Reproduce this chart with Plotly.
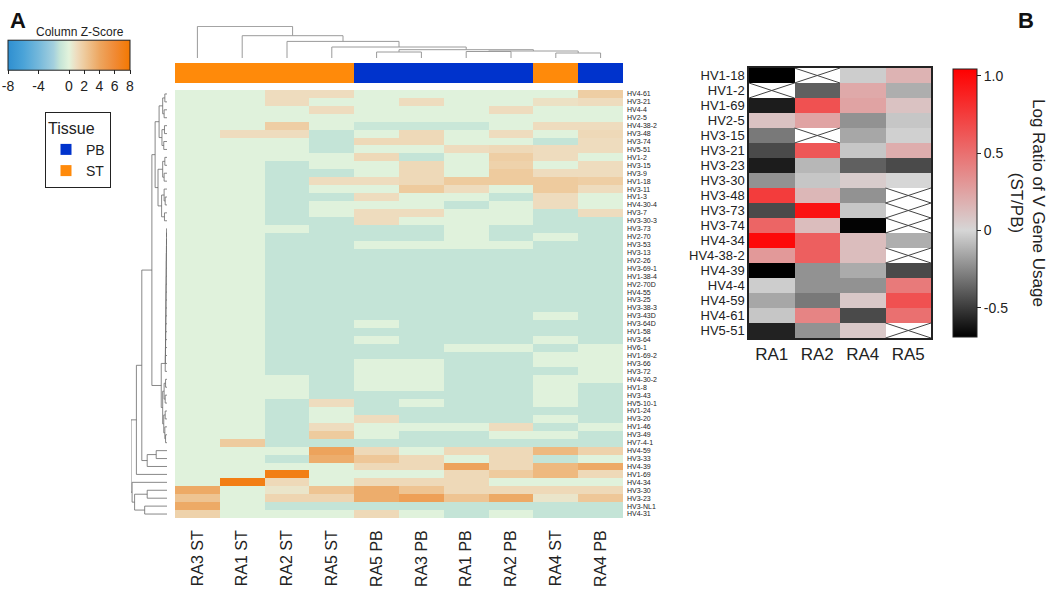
import plotly.graph_objects as go

W, H = 1050, 599


def px_x(p):
    return p / W


def px_y(p):
    return 1 - p / H


# ---------------- Panel A data ----------------
col_labels = ["RA3 ST", "RA1 ST", "RA2 ST", "RA5 ST", "RA5 PB",
              "RA3 PB", "RA1 PB", "RA2 PB", "RA4 ST", "RA4 PB"]
col_tissue = [lab.split()[1] for lab in col_labels]

row_labels = [
    "HV4-61", "HV3-21", "HV4-4", "HV2-5", "HV4-38-2", "HV3-48", "HV3-74", "HV5-51",
    "HV1-2", "HV3-15", "HV3-9", "HV1-18", "HV3-11", "HV1-3", "HV4-30-4", "HV3-7",
    "HV3-30-3", "HV3-73", "HV2-70", "HV3-53", "HV3-13", "HV2-26", "HV3-69-1", "HV1-38-4",
    "HV2-70D", "HV4-55", "HV3-25", "HV3-38-3", "HV3-43D", "HV3-64D", "HV1-58", "HV3-64",
    "HV6-1", "HV1-69-2", "HV3-66", "HV3-72", "HV4-30-2", "HV1-8", "HV3-43", "HV5-10-1",
    "HV1-24", "HV3-20", "HV1-46", "HV3-49", "HV7-4-1", "HV4-59", "HV3-33", "HV4-39",
    "HV1-69", "HV4-34", "HV3-30", "HV3-23", "HV3-NL1", "HV4-31",
]

zscore = [
    [-0.1, -0.1, 1.0, 1.0, -0.1, -0.1, -0.1, -0.1, -0.1, 1.8],
    [-0.1, -0.1, 1.0, -0.1, -0.1, 1.0, -0.1, -0.1, 0.8, 1.0],
    [-0.1, -0.1, -0.1, 1.0, -0.1, -0.1, -0.1, 1.0, -0.1, -0.1],
    [-0.1, -0.1, -0.1, -0.1, -0.1, -0.1, -0.1, -0.1, -0.1, -0.1],
    [-0.1, -0.1, 1.8, -0.1, -1.0, -1.0, -1.0, -0.1, 1.0, 1.0],
    [-0.1, 1.0, 1.0, -1.2, -0.1, 1.2, -0.1, 1.0, -0.1, 1.2],
    [-0.1, -0.1, -0.1, -1.2, 1.2, 1.2, -0.1, -0.1, -1.2, 1.0],
    [-0.1, -0.1, -0.1, -1.2, -0.1, -0.1, 1.0, 1.2, 1.0, 1.0],
    [-0.1, -0.1, -0.1, -0.1, 1.2, -1.2, -0.1, 1.8, 1.0, -0.1],
    [-0.1, -0.1, -1.2, -0.1, -0.1, 1.2, -0.1, 1.6, -0.1, 1.0],
    [-0.1, -0.1, -1.2, -1.2, -0.1, 1.2, -0.1, 2.0, 1.0, 1.0],
    [-0.1, -0.1, -1.2, 1.0, 1.0, 1.2, 2.0, 2.0, 2.0, 1.8],
    [-0.1, -0.1, -1.2, -0.1, -0.1, 2.0, 1.0, -0.1, 2.0, 1.0],
    [-0.1, -0.1, -1.2, -1.2, 1.0, -0.1, -0.1, -1.2, 1.0, -0.1],
    [-0.1, -0.1, -1.2, -0.1, -0.1, -0.1, -1.2, -0.1, 1.0, -0.1],
    [-0.1, -0.1, -1.2, -0.1, 1.0, 1.0, -0.1, -0.1, -1.2, 1.0],
    [-0.1, -0.1, -1.2, -1.2, 1.0, -0.1, -0.1, -0.1, -1.2, -1.2],
    [-0.1, -0.1, -0.1, -1.2, -1.2, -1.2, -0.1, -1.2, -1.2, -1.2],
    [-0.1, -0.1, -1.2, -1.2, -1.2, -1.2, -0.1, -1.2, -0.1, -1.2],
    [-0.1, -0.1, -1.2, -1.2, -0.1, -0.1, -0.1, -0.1, -1.2, -1.2],
    [-0.1, -0.1, -1.2, -1.2, -1.2, -1.2, -1.2, -1.2, -1.2, -1.2],
    [-0.1, -0.1, -1.2, -1.2, -1.2, -1.2, -1.2, -1.2, -1.2, -1.2],
    [-0.1, -0.1, -1.2, -1.2, -1.2, -1.2, -1.2, -1.2, -1.2, -1.2],
    [-0.1, -0.1, -1.2, -1.2, -1.2, -1.2, -1.2, -1.2, -1.2, -1.2],
    [-0.1, -0.1, -1.2, -1.2, -1.2, -1.2, -1.2, -1.2, -1.2, -1.2],
    [-0.1, -0.1, -1.2, -1.2, -1.2, -1.2, -1.2, -1.2, -1.2, -1.2],
    [-0.1, -0.1, -1.2, -1.2, -1.2, -1.2, -1.2, -1.2, -1.2, -1.2],
    [-0.1, -0.1, -1.2, -1.2, -1.2, -1.2, -1.2, -1.2, -1.2, -1.2],
    [-0.1, -0.1, -1.2, -1.2, -1.2, -1.2, -1.2, -1.2, -0.1, -1.2],
    [-0.1, -0.1, -1.2, -1.2, -0.1, -1.2, -1.2, -1.2, -1.2, -1.2],
    [-0.1, -0.1, -1.2, -1.2, -1.2, -1.2, -1.2, -1.2, -1.2, -1.2],
    [-0.1, -0.1, -1.2, -1.2, -0.1, -1.2, -1.2, -1.2, -0.1, -1.2],
    [-0.1, -0.1, -1.2, -1.2, -1.2, -1.2, -0.1, -0.1, -1.2, -0.1],
    [-0.1, -0.1, -1.2, -1.2, -1.2, -1.2, -1.2, -1.2, -0.1, -0.1],
    [-0.1, -0.1, -1.2, -1.2, -0.1, -0.1, -1.2, -1.2, -0.1, -0.1],
    [-0.1, -0.1, -1.2, -1.2, -0.1, -0.1, -1.2, -1.2, -1.2, -0.1],
    [-0.1, -0.1, -0.1, -1.2, -0.1, -0.1, -1.2, -1.2, -0.1, -0.1],
    [-0.1, -0.1, -0.1, -1.2, -0.1, -0.1, -1.2, -1.2, -0.1, -1.2],
    [-0.1, -0.1, -0.1, -1.2, -1.2, -1.2, -1.2, -1.2, -0.1, -1.2],
    [-0.1, -0.1, -1.2, 1.0, -1.2, -0.1, -1.2, -1.2, -0.1, -1.2],
    [-0.1, -0.1, -1.2, -0.1, -1.2, -1.2, -1.2, -1.2, -1.2, -1.2],
    [-0.1, -0.1, -1.2, -0.1, 1.0, -1.2, -1.2, -1.2, -0.1, -1.2],
    [-0.1, -0.1, -1.2, 1.0, -0.1, -0.1, -0.1, 1.0, -1.2, -0.1],
    [-0.1, -0.1, -1.2, 2.0, -0.1, -1.2, -1.2, -0.1, -0.1, -1.2],
    [-0.1, 2.0, -1.2, -1.2, -1.2, -1.2, -1.2, -1.2, -1.2, -1.2],
    [-0.1, -0.1, -0.1, 4.2, 1.2, -0.1, 1.2, 1.2, 3.0, 1.6],
    [-0.1, -0.1, -1.2, 3.6, 2.2, 1.2, -0.1, 1.2, -1.2, -0.1],
    [-0.1, -0.1, -0.1, -0.1, 1.2, 1.2, 4.2, 1.2, 3.0, 3.8],
    [-0.1, -0.1, 7.2, -0.1, -0.1, -0.1, 1.2, 2.0, 3.0, 1.2],
    [-0.1, 7.2, 1.2, -0.1, 1.2, 1.2, 1.2, -0.1, -0.1, -0.1],
    [3.8, -0.1, 0.6, 2.4, 3.6, 2.4, 1.2, 1.2, 1.2, 1.2],
    [2.4, -0.1, 1.4, 1.4, 3.6, 4.4, 2.4, 3.8, 0.6, 2.2],
    [3.8, -0.1, -1.2, -1.2, -1.2, -1.2, -1.2, -1.2, -1.2, -1.2],
    [1.6, -0.1, -0.1, -0.1, 1.2, -0.1, -1.2, -0.1, -1.2, -1.2],
]

key_ticks = [-8, -4, 0, 2, 4, 6, 8]

# column dendrogram (leaf = display column index; (left, right, height))
col_tree = (0, (1, (2, (3, ((4, 5, 6.0), ((6, 7, 6.5), (8, 9, 5.0), 7.0), 8.3),
                        11.0), 16.6), 22.3), 31.6)

# row dendrogram (leaf = display row index)
A1 = ((0, 1, 0.06), (2, 3, 0.08), 0.12)
A2 = ((4, 5, 0.07), (6, 7, 0.09), 0.14)
A3 = ((8, 9, 0.06), (10, 11, 0.08), 0.12)
A4 = ((12, (13, 14, 0.05), 0.08), (15, 16, 0.07), 0.15)
A_grp = ((A1, A2, 0.22), (A3, A4, 0.25), 0.33)
B1_leaves = list(range(17, 36))
B1_heights = [0.012, 0.014, 0.015, 0.018, 0.02, 0.021, 0.023, 0.026, 0.028,
              0.03, 0.031, 0.034, 0.036, 0.038, 0.04, 0.043, 0.046, 0.05]
B1 = B1_leaves[0]
for leaf, hh in zip(B1_leaves[1:], B1_heights):
    B1 = (B1, leaf, hh)
B2 = (((36, 37, 0.04), (38, 39, 0.05), 0.08),
      ((40, 41, 0.05), (42, (43, 44, 0.04), 0.06), 0.09), 0.12)
B_grp = (B1, B2, 0.16)
AB = (A_grp, B_grp, 0.42)
C_grp = ((45, 46, 0.30), 47, 0.55)
U_grp = ((AB, C_grp, 0.70), 48, 0.85)
D_grp = ((50, 51, 0.55), (52, 53, 0.62), 0.90)
row_tree = (U_grp, (49, D_grp, 0.97), 1.0)

# ---------------- Panel B data ----------------
b_cols = ["RA1", "RA2", "RA4", "RA5"]
b_rows = ["HV1-18", "HV1-2", "HV1-69", "HV2-5", "HV3-15", "HV3-21", "HV3-23", "HV3-30",
          "HV3-48", "HV3-73", "HV3-74", "HV4-34", "HV4-38-2", "HV4-39", "HV4-4",
          "HV4-59", "HV4-61", "HV5-51"]
ra1 = [-0.69, None, -0.6, 0.1, -0.3, -0.45, -0.6, -0.22, 0.75, -0.45, 0.55, 1.0,
       0.3, -0.69, -0.03, -0.15, -0.05, -0.58]
ra2 = [None, -0.38, 0.65, 0.25, None, 0.62, -0.1, -0.05, 0.15, 0.95, 0.12, 0.58,
       0.58, -0.22, -0.22, -0.3, 0.4, -0.22]
ra4 = [-0.03, 0.22, 0.25, -0.22, -0.15, -0.05, -0.38, 0.05, -0.22, -0.05, -0.68,
       0.12, 0.12, -0.14, -0.22, 0.07, -0.45, 0.07]
ra5 = [0.17, -0.13, 0.1, -0.05, -0.02, 0.2, -0.45, 0.0, None, None, None, -0.13,
       None, -0.45, 0.45, 0.65, 0.5, None]
b_ticks = [-0.5, 0, 0.5, 1.0]
b_tick_text = ["-0.5", "0", "0.5", "1.0"]
b_zmin, b_zmax = -0.69, 1.045

FONT = "Liberation Sans, Arial, sans-serif"

cs_A = [
    [0.0, "#2f8fd0"], [0.125, "#4aa3d8"], [0.25, "#74b8db"], [0.375, "#a4d0de"],
    [0.425, "#c4e4d7"], [0.5, "#e3f3dc"], [0.5625, "#eedcbe"], [0.625, "#eecb9e"],
    [0.75, "#eda660"], [0.875, "#f08a35"], [1.0, "#f47800"],
]
b_zero = (0 - b_zmin) / (b_zmax - b_zmin)
cs_B = [[0.0, "#000000"], [b_zero, "#d6d6d6"], [1.0, "#ff0000"]]


def dendro(node, segs):
    """Return (position, height) of node; append U-shaped segments."""
    if isinstance(node, int):
        return float(node), 0.0
    left, right, h = node
    pl, hl = dendro(left, segs)
    pr, hr = dendro(right, segs)
    segs.append(((pl, hl), (pl, h), (pr, h), (pr, hr)))
    return (pl + pr) / 2, h


fig = go.Figure()

# main heatmap
fig.add_trace(go.Heatmap(
    z=zscore, x=list(range(len(col_labels))), y=list(range(len(row_labels))),
    colorscale=cs_A, zmin=-8, zmax=8, xaxis="x", yaxis="y", hoverinfo="skip",
    colorbar=dict(
        orientation="h", x=px_x(8), xanchor="left", y=px_y(95), yanchor="bottom",
        len=122 / W, lenmode="fraction", thickness=30, thicknessmode="pixels",
        tickvals=key_ticks, ticktext=[str(t) for t in key_ticks],
        ticks="outside", ticklen=4, tickcolor="#222",
        tickfont=dict(size=14, color="#222", family=FONT),
        outlinecolor="#222", outlinewidth=1, xpad=0, ypad=0,
    ),
))

# tissue annotation bar
fig.add_trace(go.Heatmap(
    z=[[1 if t == "ST" else 0 for t in col_tissue]], x=list(range(len(col_labels))), y=[0],
    colorscale=[[0, "#0033cc"], [0.5, "#0033cc"], [0.5, "#ff8a0a"], [1, "#ff8a0a"]],
    zmin=0, zmax=1, showscale=False, xaxis="x2", yaxis="y2", hoverinfo="skip",
))

# legend entries
for name, color in [("PB", "#0033cc"), ("ST", "#ff8a0a")]:
    fig.add_trace(go.Scatter(
        x=[None], y=[None], mode="markers", name=name,
        marker=dict(symbol="square", size=11, color=color),
        xaxis="x2", yaxis="y2", showlegend=True,
    ))

# column dendrogram
segs = []
dendro(col_tree, segs)
xs, ys = [], []
for s in segs:
    for p, h in s:
        xs.append(p)
        ys.append(h)
    xs.append(None)
    ys.append(None)
fig.add_trace(go.Scatter(x=xs, y=ys, mode="lines", line=dict(color="#9a9a9a", width=1),
                         xaxis="x3", yaxis="y3", hoverinfo="skip", showlegend=False))

# row dendrogram
segs = []
dendro(row_tree, segs)
xs, ys = [], []
for s in segs:
    for p, h in s:
        xs.append(h)
        ys.append(p)
    xs.append(None)
    ys.append(None)
fig.add_trace(go.Scatter(x=xs, y=ys, mode="lines", line=dict(color="#6a6a6a", width=0.8),
                         xaxis="x4", yaxis="y4", hoverinfo="skip", showlegend=False))

# panel B heatmap
zb = [[ra1[i], ra2[i], ra4[i], ra5[i]] for i in range(len(b_rows))]
fig.add_trace(go.Heatmap(
    z=zb, x=list(range(len(b_cols))), y=list(range(len(b_rows))),
    colorscale=cs_B, zmin=b_zmin, zmax=b_zmax, xaxis="x5", yaxis="y5", hoverinfo="skip",
    colorbar=dict(
        x=px_x(953), xanchor="left", y=px_y(203), yanchor="middle",
        len=268 / H, lenmode="fraction", thickness=24, thicknessmode="pixels",
        tickvals=b_ticks, ticktext=b_tick_text, ticks="outside", ticklen=4,
        tickcolor="#222", tickfont=dict(size=14, color="#222", family=FONT),
        outlinecolor="#222", outlinewidth=1, xpad=0, ypad=0,
    ),
))

# crosses for missing cells
xs, ys = [], []
for j, col in enumerate([ra1, ra2, ra4, ra5]):
    for i, v in enumerate(col):
        if v is None:
            xs += [j - 0.5, j + 0.5, None, j - 0.5, j + 0.5, None]
            ys += [i - 0.5, i + 0.5, None, i + 0.5, i - 0.5, None]
fig.add_trace(go.Scatter(x=xs, y=ys, mode="lines", line=dict(color="#444", width=1),
                         xaxis="x5", yaxis="y5", hoverinfo="skip", showlegend=False))

hmA_x = [175 / W, 623 / W]
hmA_y = [px_y(518), px_y(90)]
nC = len(col_labels)
nR = len(row_labels)

fig.update_layout(
    width=W, height=H, margin=dict(l=0, r=0, t=0, b=0, autoexpand=False),
    paper_bgcolor="white", plot_bgcolor="white",
    font=dict(family=FONT, color="#222"),
    xaxis=dict(domain=hmA_x, range=[-0.5, nC - 0.5], anchor="y",
               tickvals=list(range(nC)), ticktext=col_labels, tickangle=-90,
               tickfont=dict(size=16, color="#222"), showgrid=False, zeroline=False,
               ticks="", ticklabelstandoff=8, showline=False),
    yaxis=dict(domain=hmA_y, range=[nR - 0.5, -0.5], anchor="x", side="right",
               tickvals=list(range(nR)), ticktext=row_labels,
               tickfont=dict(size=7, color="#222"), showgrid=False, zeroline=False,
               ticks="", ticklabelstandoff=3),
    xaxis2=dict(domain=hmA_x, range=[-0.5, nC - 0.5], anchor="y2", visible=False),
    yaxis2=dict(domain=[px_y(83), px_y(63)], range=[-0.5, 0.5], anchor="x2", visible=False),
    xaxis3=dict(domain=hmA_x, range=[-0.5, nC - 0.5], anchor="y3", visible=False),
    yaxis3=dict(domain=[px_y(58), px_y(26)], range=[0, 32], anchor="x3", visible=False),
    xaxis4=dict(domain=[131 / W, 167 / W], range=[1.0, 0], anchor="y4", visible=False),
    yaxis4=dict(domain=hmA_y, range=[nR - 0.5, -0.5], anchor="x4", visible=False),
    xaxis5=dict(domain=[749 / W, 931 / W], range=[-0.5, 3.5], anchor="y5",
                tickvals=list(range(4)), ticktext=b_cols, tickfont=dict(size=17, color="#222"),
                showgrid=False, zeroline=False, showline=True, mirror=True,
                linecolor="#222", linewidth=1.5, ticks=""),
    yaxis5=dict(domain=[px_y(338), px_y(68)], range=[len(b_rows) - 0.5, -0.5], anchor="x5",
                tickvals=list(range(len(b_rows))), ticktext=b_rows,
                tickfont=dict(size=13, color="#222"), showgrid=False, zeroline=False,
                showline=True, mirror=True, linecolor="#222", linewidth=1.5, ticks=""),
    legend=dict(
        title=dict(text="Tissue", font=dict(size=16, color="#222")),
        font=dict(size=14, color="#222"), x=px_x(45), y=px_y(112),
        xanchor="left", yanchor="top", bordercolor="#222", borderwidth=1,
        bgcolor="white", tracegroupgap=0, itemwidth=30,
    ),
    annotations=[
        dict(text="<b>A</b>", x=px_x(8), y=px_y(6), xref="paper", yref="paper",
             xanchor="left", yanchor="top", showarrow=False, font=dict(size=22, color="#111")),
        dict(text="<b>B</b>", x=px_x(1016), y=px_y(6), xref="paper", yref="paper",
             xanchor="left", yanchor="top", showarrow=False, font=dict(size=22, color="#111")),
        dict(text="Column Z-Score", x=px_x(80), y=px_y(32), xref="paper", yref="paper",
             xanchor="center", yanchor="middle", showarrow=False,
             font=dict(size=12, color="#222")),
        dict(text="Log Ratio of V Gene Usage<br>(ST/PB)", x=px_x(1028), y=px_y(203),
             xref="paper", yref="paper", xanchor="center", yanchor="middle",
             textangle=90, showarrow=False, font=dict(size=17, color="#222")),
    ],
)

fig.write_html("out.html", config={"displayModeBar": False},
               post_script="document.body.style.margin='0px';")
